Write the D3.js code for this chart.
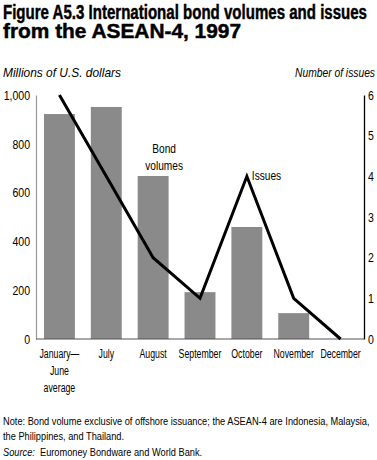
<!DOCTYPE html>
<html>
<head>
<meta charset="utf-8">
<script src="https://cdn.jsdelivr.net/npm/d3@7"></script>
<style>
  body { margin: 0; background: #fff; overflow: hidden; }
  svg { display: block; font-family: "Liberation Sans", Arial, sans-serif; }
</style>
</head>
<body>
<div id="chart"></div>
<script>
var months = ["January\u2014|June|average", "July", "August", "September", "October", "November", "December"],
    bondVolumes = [922, 951, 668, 192, 459, 106, 0],
    issues = [6, 4, 2, 1, 4, 1, 0],
    leftTicks = [0, 200, 400, 600, 800, 1000],
    rightTicks = [0, 1, 2, 3, 4, 5, 6];

var W = 377, H = 460,
    margin = {top: 95, right: 13, bottom: 121, left: 36},
    width = W - margin.left - margin.right,
    height = H - margin.top - margin.bottom;

// the original uses a narrow typeface, so squeeze text horizontally
function condense(sel, f) {
    sel.each(function() {
        var n = this.getComputedTextLength();
        d3.select(this).attr("textLength", n * f).attr("lengthAdjust", "spacingAndGlyphs");
    });
}

var svg = d3.select("#chart").append("svg")
    .attr("width", W)
    .attr("height", H);

// title
svg.append("text")
    .attr("x", 3).attr("y", 19)
    .attr("font-weight", "bold").attr("font-size", 19.5)
    .attr("stroke", "#000").attr("stroke-width", 0.45)
    .attr("textLength", 364).attr("lengthAdjust", "spacingAndGlyphs")
    .text("Figure A5.3  International bond volumes and issues");
svg.append("text")
    .attr("x", 3).attr("y", 37.5)
    .attr("font-weight", "bold").attr("font-size", 19.5)
    .attr("stroke", "#000").attr("stroke-width", 0.45)
    .attr("textLength", 238).attr("lengthAdjust", "spacingAndGlyphs")
    .text("from the ASEAN-4, 1997");

svg.append("text")
    .attr("x", 3).attr("y", 77)
    .attr("font-style", "italic").attr("font-size", 13)
    .attr("textLength", 118).attr("lengthAdjust", "spacingAndGlyphs")
    .text("Millions of U.S. dollars");
svg.append("text")
    .attr("x", 375).attr("y", 77)
    .attr("text-anchor", "end")
    .attr("font-style", "italic").attr("font-size", 13)
    .attr("textLength", 80).attr("lengthAdjust", "spacingAndGlyphs")
    .text("Number of issues");

var g = svg.append("g")
    .attr("transform", "translate(" + margin.left + "," + margin.top + ")");

var x = d3.scaleBand()
    .domain(months)
    .range([0, width])
    .paddingInner(0.34)
    .paddingOuter(0.17);

var y = d3.scaleLinear().domain([0, 1000]).range([height, 0]);
var y2 = d3.scaleLinear().domain([0, 6]).range([height, 0]);

// bars
g.selectAll(".bar")
    .data(bondVolumes)
    .enter().append("rect")
    .attr("class", "bar")
    .attr("x", function(d, i) { return x(months[i]); })
    .attr("y", function(d) { return y(d); })
    .attr("width", x.bandwidth())
    .attr("height", function(d) { return height - y(d); })
    .attr("fill", "#8a8a8a");

// left axis
var leftAxis = g.append("g")
    .call(d3.axisLeft(y).tickValues(leftTicks).tickSize(0).tickPadding(6).tickFormat(d3.format(",")));
leftAxis.select(".domain").attr("stroke", "#999").attr("stroke-width", 1.2);
leftAxis.selectAll("text").attr("font-size", 13.5).attr("font-family", "inherit").attr("fill", "#000");
condense(leftAxis.selectAll("text"), 0.78);

// right axis
var rightAxis = g.append("g")
    .attr("transform", "translate(" + width + ",0)")
    .call(d3.axisRight(y2).tickValues(rightTicks).tickSize(0).tickPadding(4).tickFormat(d3.format("d")));
rightAxis.select(".domain").attr("stroke", "#000").attr("stroke-width", 1.3);
rightAxis.selectAll("text").attr("font-size", 13.5).attr("font-family", "inherit").attr("fill", "#000");
condense(rightAxis.selectAll("text"), 0.78);

// baseline
g.append("line")
    .attr("x1", 0).attr("x2", width)
    .attr("y1", height).attr("y2", height)
    .attr("stroke", "#555").attr("stroke-width", 1.2);

// issues line
var line = d3.line()
    .x(function(d, i) { return x(months[i]) + x.bandwidth() / 2; })
    .y(function(d) { return y2(d); });
g.append("path")
    .datum(issues)
    .attr("d", line)
    .attr("fill", "none")
    .attr("stroke", "#000")
    .attr("stroke-width", 3);

// x labels, one text per line so each can be squeezed
months.forEach(function(m) {
    m.split("|").forEach(function(s, j) {
        g.append("text")
            .attr("class", "xlab")
            .attr("x", x(m) + x.bandwidth() / 2)
            .attr("y", height + 19 + j * 17)
            .attr("text-anchor", "middle")
            .attr("font-size", 12.5)
            .text(s);
    });
});
condense(g.selectAll(".xlab"), 0.7);

// series labels
var bx = x(months[2]) + x.bandwidth() / 2 + 11;
g.append("text").attr("class", "slab").attr("x", bx).attr("y", 58)
    .attr("text-anchor", "middle").attr("font-size", 13).text("Bond");
g.append("text").attr("class", "slab").attr("x", bx).attr("y", 75)
    .attr("text-anchor", "middle").attr("font-size", 13).text("volumes");
g.append("text").attr("class", "slab")
    .attr("x", x(months[4]) + x.bandwidth() / 2 + 5)
    .attr("y", y2(4) + 4)
    .attr("font-size", 13)
    .text("Issues");
condense(g.selectAll(".slab"), 0.78);

// notes
var notes = svg.append("g").attr("font-size", 11).attr("fill", "#000");
notes.append("text").attr("class", "nt").attr("x", 3).attr("y", 425)
    .text("Note: Bond volume exclusive of offshore issuance; the ASEAN-4 are Indonesia, Malaysia,");
notes.append("text").attr("class", "nt").attr("x", 3).attr("y", 440)
    .text("the Philippines, and Thailand.");
var src = notes.append("text").attr("class", "nt").attr("x", 3).attr("y", 456);
src.append("tspan").attr("font-style", "italic").text("Source:");
src.append("tspan").text("\u00a0\u00a0Euromoney Bondware and World Bank.");
condense(notes.selectAll(".nt"), 0.84);
</script>
</body>
</html>
